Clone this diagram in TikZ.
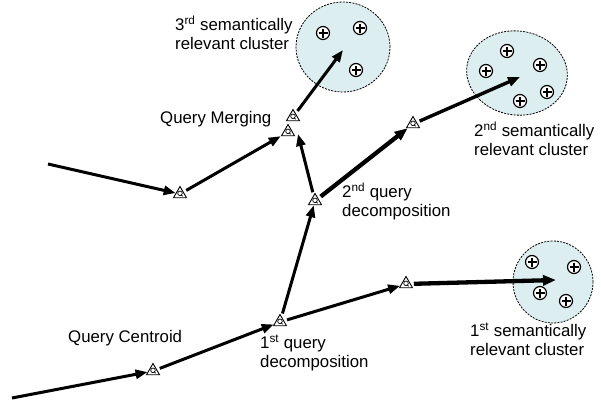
\documentclass[tikz,border=0pt]{standalone}
\usepackage{fontspec}
\setmainfont{Liberation Sans}
\usetikzlibrary{arrows.meta,shapes.geometric}
\definecolor{clusterfill}{RGB}{221,238,240}
\tikzset{
  tri/.style={regular polygon, regular polygon sides=3, draw, line width=0.9pt, fill=white,
    inner sep=0pt, minimum size=15pt,
    path picture={\draw[line width=0.7pt] ([yshift=-1.2pt]path picture bounding box.center) circle (2.3pt);
                  \draw[line width=0.7pt] ([shift={(1pt,-2.6pt)}]path picture bounding box.center) -- ++(1.6pt,-1.6pt);}},
  cluster/.style={ellipse, draw, line width=0.8pt, dash pattern=on 2pt off 1.2pt, fill=clusterfill, inner sep=0pt},
  plusmark/.style={circle, draw, line width=1.2pt, fill=white, minimum size=13pt, inner sep=0pt,
    path picture={\draw[line width=1.2pt] ([xshift=-4.5pt]path picture bounding box.center) -- ++(9pt,0)
                  ([yshift=-4.5pt]path picture bounding box.center) -- ++(0,9pt);}},
  flow/.style={line width=3pt, -{Triangle[length=12pt,width=9pt]}, shorten <=3pt},
  bigflow/.style={line width=4.3pt, -{Triangle[length=13pt,width=10pt]}, shorten <=3pt},
  lbl/.style={anchor=west, align=left, inner sep=0pt, font=\fontsize{16.8pt}{19pt}\selectfont}
}
\begin{document}
\begin{tikzpicture}[x=1pt,y=-1pt]
\useasboundingbox (0,0) rectangle (601,407);
% clusters
\node[cluster, minimum width=94pt, minimum height=90pt] (e1) at (343,47) {};
\node[cluster, minimum width=101pt, minimum height=84pt, rotate=-8] (e2) at (517,73) {};
\node[cluster, minimum width=80pt, minimum height=82pt] (e3) at (553,282) {};
% plus markers
\node[plusmark] (p11) at (323,33) {};
\node[plusmark] (p12) at (360,28) {};
\node[plusmark] (p13) at (356,70) {};
\node[plusmark] (p21) at (507,51) {};
\node[plusmark] (p22) at (540,65) {};
\node[plusmark] (p23) at (486,71) {};
\node[plusmark] (p24) at (547,92) {};
\node[plusmark] (p25) at (520,101) {};
\node[plusmark] (p31) at (532,262) {};
\node[plusmark] (p32) at (574,267) {};
\node[plusmark] (p33) at (540,293) {};
\node[plusmark] (p34) at (566,301) {};
% query points
\node[tri] (t1) at (153,371) {};
\node[tri] (t2) at (280,322) {};
\node[tri] (t3) at (406,284) {};
\node[tri] (t4) at (315,201) {};
\node[tri] (t5) at (413,124) {};
\node[tri] (t6) at (288,132) {};
\node[tri] (t7) at (293,117) {};
\node[tri] (t8) at (180,194) {};
% free ends
\coordinate (s1) at (12,398);
\coordinate (s2) at (48,164);
\coordinate (c1) at (343,50);
\coordinate (c2) at (520,77);
\coordinate (c3) at (556,280);
\coordinate (m6) at (298,134);
% connectors
\draw[flow, shorten <=0pt] (s1) -- (t1);
\draw[flow] (t1) -- (t2);
\draw[flow] (t2) -- (t4);
\draw[flow] (t2) -- (t3);
\draw[bigflow] (t3) -- (c3);
\draw[bigflow] (t4) -- (t5);
\draw[flow] (t4) -- (m6);
\draw[flow, shorten <=0pt] (s2) -- (t8);
\draw[flow] (t8) -- (t6);
\draw[flow] (t7) -- (c1);
\draw[flow, line width=3.4pt] (t5) -- (c2);
% labels
\node[lbl] (l1) at (175,32.5) {3\textsuperscript{rd} semantically\\relevant cluster};
\node[lbl] (l2) at (160,119) {Query Merging};
\node[lbl] (l3) at (342,201.5) {2\textsuperscript{nd} query\\decomposition};
\node[lbl] (l4) at (474,139) {2\textsuperscript{nd} semantically\\relevant cluster};
\node[lbl] (l5) at (470,339) {1\textsuperscript{st} semantically\\relevant cluster};
\node[lbl] (l6) at (260,353) {1\textsuperscript{st} query\\decomposition};
\node[lbl] (l7) at (68,338) {Query Centroid};
\end{tikzpicture}
\end{document}
